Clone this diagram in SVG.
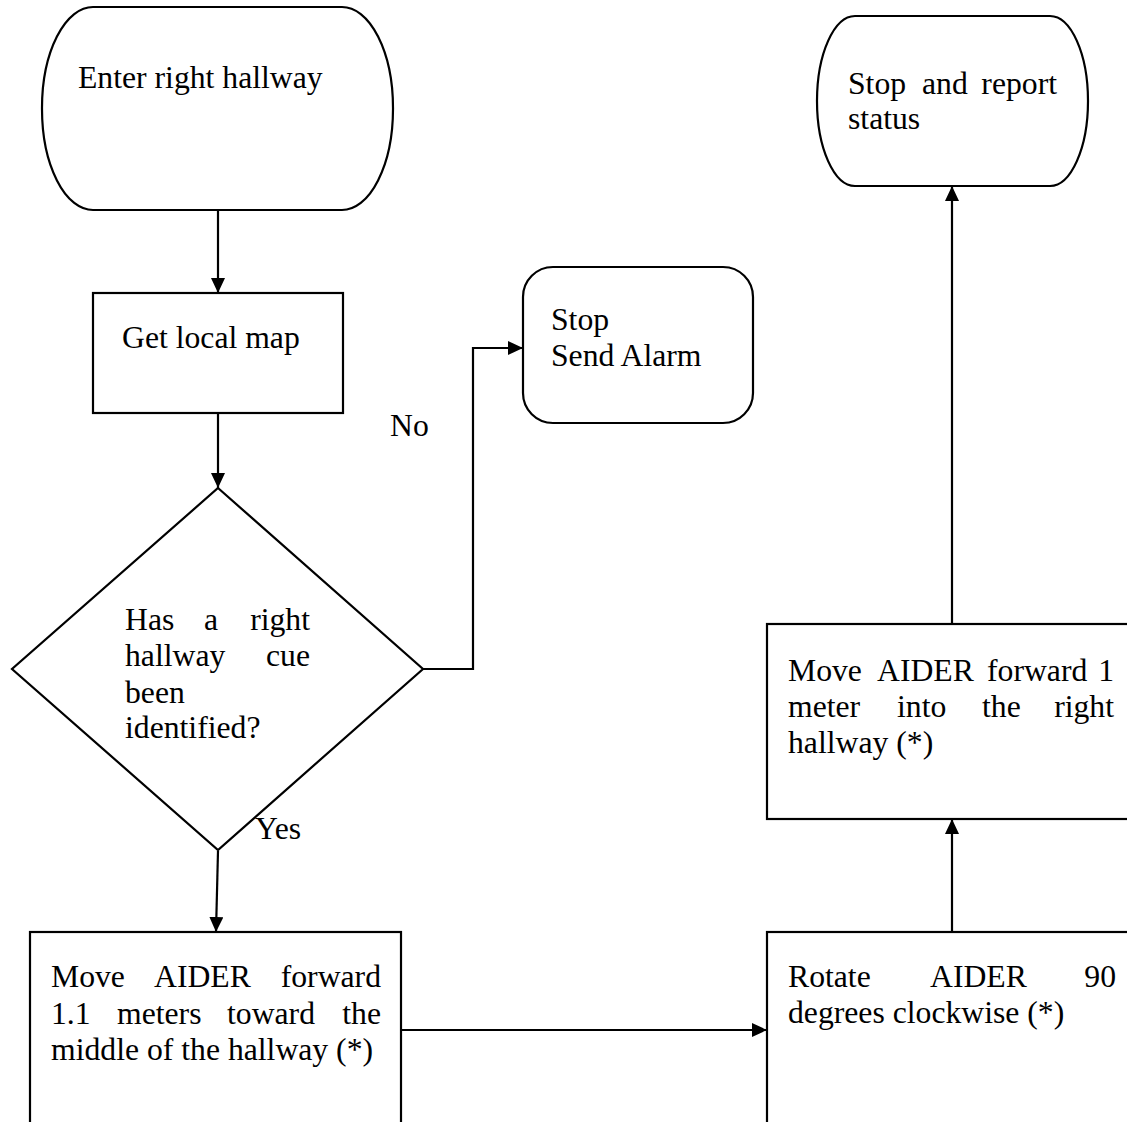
<svg xmlns="http://www.w3.org/2000/svg" width="1127" height="1122" viewBox="0 0 1127 1122">
<style>
.s{fill:#fff;stroke:#000;stroke-width:2.2}
.c{fill:none;stroke:#000;stroke-width:2.2}
text{font-family:"Liberation Serif","Times New Roman",serif;font-size:31.7px;fill:#000}
.e{text-anchor:end}
</style>
<defs>
<marker id="ah" viewBox="0 0 15 14" refX="15" refY="7" markerWidth="15" markerHeight="14" markerUnits="userSpaceOnUse" orient="auto">
<path d="M0,0 L15,7 L0,14 Z" fill="#000"/>
</marker>
</defs>
<rect width="1127" height="1122" fill="#fff"/>
<g id="connectors">
<line class="c" x1="218" y1="210" x2="218" y2="293" marker-end="url(#ah)"/>
<line class="c" x1="218" y1="413" x2="218" y2="488" marker-end="url(#ah)"/>
<path class="c" d="M423,669 H473 V348 H523" marker-end="url(#ah)"/>
<line class="c" x1="218" y1="851" x2="216" y2="932" marker-end="url(#ah)"/>
<line class="c" x1="401" y1="1030" x2="767" y2="1030" marker-end="url(#ah)"/>
<line class="c" x1="952" y1="932" x2="952" y2="819" marker-end="url(#ah)"/>
<line class="c" x1="952" y1="624" x2="952" y2="186" marker-end="url(#ah)"/>
<text x="390" y="436">No</text>
<text x="255" y="839">Yes</text>
</g>
<g id="start">
<rect class="s" x="42" y="7" width="351" height="203" rx="51" ry="101"/>
<text x="78" y="88">Enter right hallway</text>
</g>
<g id="getmap">
<rect class="s" x="93" y="293" width="250" height="120"/>
<text x="122" y="348">Get local map</text>
</g>
<g id="decision">
<polygon class="s" points="218,488 423,669 218,850 12,669"/>
<text x="125" y="630">Has</text><text x="204" y="630">a</text><text class="e" x="310" y="630">right</text>
<text x="125" y="666">hallway</text><text class="e" x="310" y="666">cue</text>
<text x="125" y="703">been</text>
<text x="125" y="738">identified?</text>
</g>
<g id="alarm">
<rect class="s" x="523" y="267" width="230" height="156" rx="30" ry="30"/>
<text x="551" y="330">Stop</text>
<text x="551" y="366">Send Alarm</text>
</g>
<g id="move1">
<rect class="s" x="30" y="932" width="371" height="200"/>
<text x="51" y="987">Move</text><text x="154" y="987">AIDER</text><text class="e" x="381" y="987">forward</text>
<text x="51" y="1024">1.1</text><text x="117" y="1024">meters</text><text x="227" y="1024">toward</text><text class="e" x="381" y="1024">the</text>
<text x="51" y="1060">middle of the hallway (*)</text>
</g>
<g id="rotate">
<rect class="s" x="767" y="932" width="380" height="200"/>
<text x="788" y="987">Rotate</text><text x="930" y="987">AIDER</text><text class="e" x="1116" y="987">90</text>
<text x="788" y="1023">degrees clockwise (*)</text>
</g>
<g id="move2">
<rect class="s" x="767" y="624" width="380" height="195"/>
<text x="788" y="681">Move</text><text x="877" y="681">AIDER</text><text x="987" y="681">forward</text><text class="e" x="1114" y="681">1</text>
<text x="788" y="717">meter</text><text x="897" y="717">into</text><text x="982" y="717">the</text><text class="e" x="1114" y="717">right</text>
<text x="788" y="753">hallway (*)</text>
</g>
<g id="end">
<rect class="s" x="817" y="16" width="271" height="170" rx="38" ry="85"/>
<text x="848" y="94">Stop</text><text x="922" y="94">and</text><text class="e" x="1057" y="94">report</text>
<text x="848" y="129">status</text>
</g>
</svg>
